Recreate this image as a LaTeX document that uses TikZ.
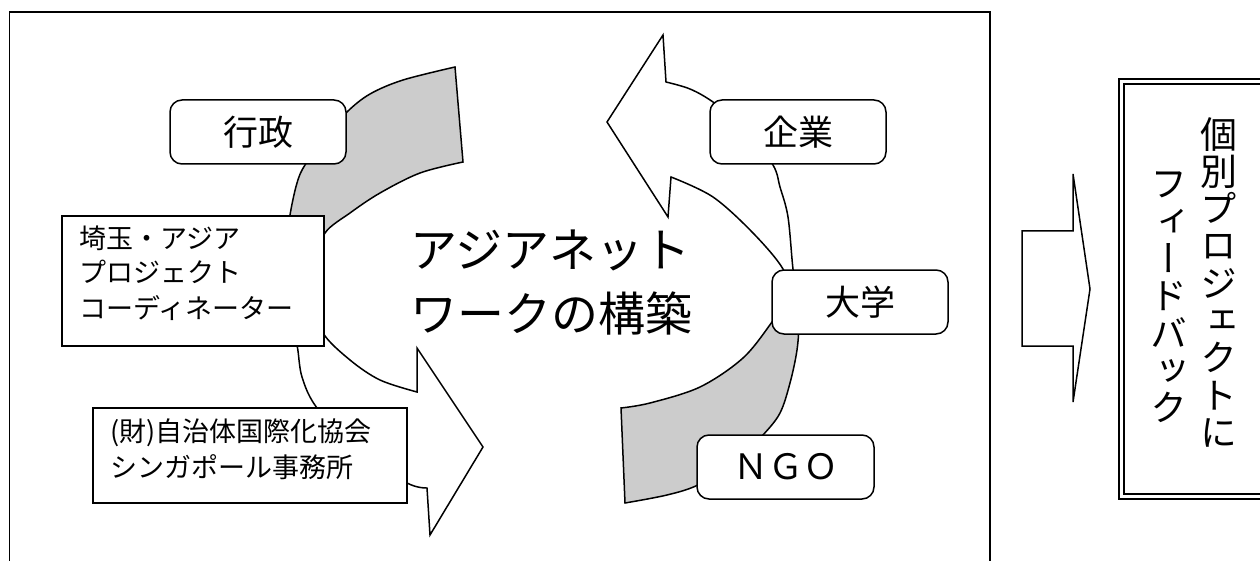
\documentclass[tikz,border=0pt]{standalone}
\usepackage{fontspec}
\newfontfamily\jp{Noto Sans CJK JP}
\newfontfamily\jpvert[RawFeature={+vert}]{Noto Sans CJK JP}
\definecolor{bandgrey}{RGB}{204,204,204}
\tikzset{
  ln/.style={line width=1.5pt, line join=miter},
  rbox/.style={ln, draw, fill=white, rounded corners=12pt, minimum width=176pt, minimum height=64pt,
    inner sep=0pt, font=\jp\fontsize{35}{35}\selectfont},
  sqbox/.style={ln, draw, fill=white, inner sep=0pt},
  smalltxt/.style={anchor=base west, inner sep=0pt, font=\jp\fontsize{27}{27}\selectfont},
  bigtxt/.style={anchor=base west, inner sep=0pt, font=\jp\fontsize{47}{47}\selectfont},
  vtext/.style={anchor=north, inner sep=0pt, align=center, font=\jpvert\fontsize{37}{37.3}\selectfont},
}
\newcommand\LeftCurve{plot[smooth, tension=0.55] coordinates {(455,67) (403,80) (370,94) (347,112) (326,137) (305,165) (297,183) (290,215) (286,250) (285,283) (289,318) (297,345) (302,377) (317,408) (358,452) (407,483) (427,488)} -- (430,535) -- (483,447) -- (417,348) -- plot[smooth, tension=0.55] coordinates {(417,392) (380,380) (350,360) (323,333) (314,300) (314,265) (325,233) (350,213) (380,193) (420,173) (463,162)} -- cycle}
\newcommand\RightCurve{plot[smooth, tension=0.55] coordinates {(625,503) (667,495) (698,485) (735,463) (763,435) (780,413) (790,383) (797,350) (799,320) (797,290) (793,269) (788,217) (780,187) (773,165) (746,128) (713,102) (690,89) (666,82)} -- (663,35) -- (607,122) -- (668,217) -- plot[smooth, tension=0.55] coordinates {(671,177) (713,197) (753,233) (783,269) (789,296) (772,322) (743,358) (700,387) (650,403) (621,408)} -- cycle}
\begin{document}
\begin{tikzpicture}[x=1pt,y=-1pt]
\useasboundingbox (0,0) rectangle (1260,561);
\clip (0,0) rectangle (1260,561);
\fill[white] (0,0) rectangle (1260,561);
% outer frame
\draw[ln] (9.5,600) -- (9.5,12) -- (990,12) -- (990,600);
% left curved arrow
\fill[white] \LeftCurve;
\begin{scope}
  \clip (0,0) rectangle (1260,280);
  \fill[bandgrey] \LeftCurve;
\end{scope}
\draw[ln] \LeftCurve;
% right curved arrow
\fill[white] \RightCurve;
\begin{scope}
  \clip (0,300) rectangle (1260,561);
  \fill[bandgrey] \RightCurve;
\end{scope}
\draw[ln] \RightCurve;
% boxes
\node[rbox] (gyosei) at (258,132) {行政};
\node[rbox] (kigyo) at (798,132) {企業};
\node[rbox] (daigaku) at (860,302) {大学};
\node[rbox, minimum width=177pt] (ngo) at (785.5,467) {ＮＧＯ};
\node[sqbox, minimum width=262pt, minimum height=130pt] (saitama) at (193,281) {};
\node[smalltxt] (saitamaA) at (79,248) {埼玉・アジア};
\node[smalltxt] (saitamaB) at (79,283) {プロジェクト};
\node[smalltxt] (saitamaC) at (79,318) {コーディネーター};
\node[sqbox, minimum width=314pt, minimum height=95pt] (clair) at (250,455.5) {};
\node[smalltxt] (clairA) at (110,441) {(財)自治体国際化協会};
\node[smalltxt] (clairB) at (110,477) {シンガポール事務所};
% center title
\node[bigtxt] (titleA) at (410,268) {アジアネット};
\node[bigtxt] (titleB) at (410,331) {ワークの構築};
% block arrow to the right
\draw[ln, fill=white] (1022,231) -- (1073,231) -- (1073,174) -- (1090,289) -- (1073,402) -- (1073,346) -- (1022,346) -- cycle;
% feedback box
\draw[line width=1.4pt, double, double distance=3.6pt] (1121.5,81.7) rectangle (1290,496.5);
\node[vtext] (fbA) at (1219,117) {個\\別\\プ\\ロ\\ジ\\ェ\\ク\\ト\\に};
\node[vtext] (fbB) at (1169,172) {フ\\ィ\\ー\\ド\\バ\\ッ\\ク};
\end{tikzpicture}
\end{document}
